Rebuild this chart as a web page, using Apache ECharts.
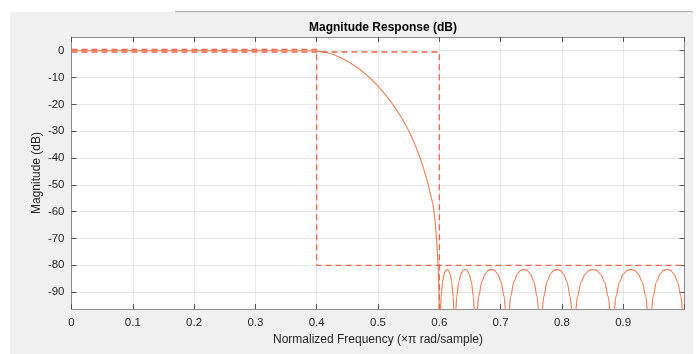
<!DOCTYPE html>
<html>
<head>
<meta charset="utf-8">
<script src="https://cdn.jsdelivr.net/npm/echarts@6/dist/echarts.min.js"></script>
<style>
html,body{margin:0;padding:0;background:#fff;}
#chart{width:697px;height:354px;}
</style>
</head>
<body>
<div id="chart"></div>
<script>
// ---- data ----
const title = 'Magnitude Response (dB)';
const xName = 'Normalized Frequency (\u00d7\u03c0 rad/sample)';
const yName = 'Magnitude (dB)';
const yTicks = [0, -10, -20, -30, -40, -50, -60, -70, -80, -90];

// passband + transition band of the filter response [freq, dB]
const responsePass = [
  [0, 0], [0.1, 0], [0.2, 0], [0.3, -0.01], [0.38, -0.03], [0.39, -0.06],
  [0.40, -0.15], [0.41, -0.45], [0.42, -0.95], [0.43, -1.7], [0.44, -2.7], [0.45, -3.9],
  [0.46, -5.3], [0.47, -6.9], [0.48, -8.75], [0.49, -10.85], [0.50, -13.2], [0.51, -15.8],
  [0.52, -18.7], [0.53, -21.95], [0.54, -25.55], [0.55, -29.75], [0.56, -34.75], [0.57, -40.75],
  [0.58, -48.15], [0.59, -57.65], [0.593, -63], [0.596, -72], [0.598, -80], [0.5995, -90], [0.6005, -130]
];
// stopband lobes [freq, dB]
const responseStop = [
  [0.6005, -130],
  [0.6017, -97.6], [0.6030, -91.7], [0.6054, -86.1], [0.6079, -83.3], [0.6103, -81.9], [0.6128, -81.5],
  [0.6152, -81.9], [0.6177, -83.3], [0.6201, -86.1], [0.6226, -91.7], [0.6238, -97.6], [0.625, -130],
  [0.6267, -97.6], [0.6284, -91.7], [0.6318, -86.1], [0.6352, -83.3], [0.6386, -81.9], [0.642, -81.5],
  [0.6454, -81.9], [0.6488, -83.3], [0.6522, -86.1], [0.6556, -91.7], [0.6573, -97.6], [0.659, -130],
  [0.6616, -97.6], [0.6642, -91.7], [0.6694, -86.1], [0.6746, -83.3], [0.6798, -81.9], [0.685, -81.5],
  [0.6902, -81.9], [0.6954, -83.3], [0.7006, -86.1], [0.7058, -91.7], [0.7084, -97.6], [0.711, -130],
  [0.7137, -97.6], [0.7164, -91.7], [0.7218, -86.1], [0.7272, -83.3], [0.7326, -81.9], [0.738, -81.5],
  [0.7434, -81.9], [0.7488, -83.3], [0.7542, -86.1], [0.7596, -91.7], [0.7623, -97.6], [0.765, -130],
  [0.7677, -97.6], [0.7704, -91.7], [0.7758, -86.1], [0.7812, -83.3], [0.7866, -81.9], [0.792, -81.5],
  [0.7974, -81.9], [0.8028, -83.3], [0.8082, -86.1], [0.8136, -91.7], [0.8163, -97.6], [0.819, -130],
  [0.8222, -97.6], [0.8253, -91.7], [0.8316, -86.1], [0.8379, -83.3], [0.8442, -81.9], [0.8505, -81.5],
  [0.8568, -81.9], [0.8631, -83.3], [0.8694, -86.1], [0.8757, -91.7], [0.8789, -97.6], [0.882, -130],
  [0.8851, -97.6], [0.8881, -91.7], [0.8942, -86.1], [0.9003, -83.3], [0.9064, -81.9], [0.9125, -81.5],
  [0.9186, -81.9], [0.9247, -83.3], [0.9308, -86.1], [0.9369, -91.7], [0.9400, -97.6], [0.943, -130],
  [0.9459, -97.6], [0.9487, -91.7], [0.9544, -86.1], [0.9601, -83.3], [0.9658, -81.9], [0.9715, -81.5],
  [0.9772, -81.9], [0.9829, -83.3], [0.9886, -86.1], [0.9943, -91.7], [0.9972, -97.6], [1.0, -130]
];
// specification mask (dashed)
const maskUpper = [[0, 0.5], [0.4, 0.5], [0.4, -80], [1, -80]];
const maskLower = [[0, -0.5], [0.6, -0.5], [0.6, -130]];

const xMin = 0, xMax = 1, xStep = 0.1;
const yMin = -96.3, yMax = 5.1;

// ---- chart ----
const chart = echarts.init(document.getElementById('chart'), null, {renderer: 'canvas'});
const font = '"Liberation Sans", Arial, Helvetica, sans-serif';
const txt = '#262626';
const boxColor = '#8c8c8c';
const gridColor = '#e6e6e6';
const curveColor = '#ef8560';
const maskColor = '#e8674a';

const xFmt = v => (v > 0.95 ? '' : (Math.abs(v) < 1e-9 ? '0' : v.toFixed(1)));

const option = {
  backgroundColor: '#ffffff',
  animation: false,
  graphic: [
    {type: 'rect', z: -10, shape: {x: 10, y: 12, width: 683, height: 342}, style: {fill: '#f0f0f0'}},
    {type: 'line', z: -9, shape: {x1: 175, y1: 11.5, x2: 693, y2: 11.5}, style: {stroke: '#b0b0b0', lineWidth: 1}}
  ],
  title: {
    text: title, left: 378, top: 17, textAlign: 'center',
    textStyle: {fontFamily: font, fontSize: 12, fontWeight: 'bold', color: '#000'}
  },
  grid: {
    left: 71.5, top: 37, right: 12.5, bottom: 45,
    show: true, backgroundColor: '#ffffff', borderWidth: 0
  },
  xAxis: [
    {
      type: 'value', min: xMin, max: xMax, interval: xStep, position: 'bottom',
      name: xName, nameLocation: 'middle', nameGap: 24,
      nameTextStyle: {fontFamily: font, fontSize: 12, color: txt},
      axisLine: {show: true, onZero: false, lineStyle: {color: boxColor, width: 1}},
      axisTick: {show: true, inside: true, length: 5, lineStyle: {color: '#555'}},
      axisLabel: {formatter: xFmt, margin: 8, fontFamily: font, fontSize: 11.5, color: txt, showMaxLabel: true},
      splitLine: {show: true, lineStyle: {color: gridColor, width: 1}}
    },
    {
      type: 'value', min: xMin, max: xMax, interval: xStep, position: 'top',
      axisLine: {show: true, onZero: false, lineStyle: {color: boxColor, width: 1}},
      axisTick: {show: true, inside: true, length: 5, lineStyle: {color: '#555'}},
      axisLabel: {show: false}, splitLine: {show: false}
    }
  ],
  yAxis: [
    {
      type: 'value', min: yMin, max: yMax, position: 'left',
      name: yName, nameLocation: 'middle', nameGap: 29, nameMoveOverlap: false,
      nameTextStyle: {fontFamily: font, fontSize: 12, color: txt},
      axisLine: {show: true, onZero: false, lineStyle: {color: boxColor, width: 1}},
      axisTick: {show: true, inside: true, length: 5, customValues: yTicks, lineStyle: {color: '#555'}},
      axisLabel: {customValues: yTicks, margin: 7, fontFamily: font, fontSize: 11.5, color: txt},
      splitLine: {show: true, lineStyle: {color: gridColor, width: 1}}
    },
    {
      type: 'value', min: yMin, max: yMax, position: 'right',
      axisLine: {show: true, onZero: false, lineStyle: {color: boxColor, width: 1}},
      axisTick: {show: true, inside: true, length: 5, customValues: yTicks, lineStyle: {color: '#555'}},
      axisLabel: {show: false}, splitLine: {show: false}
    }
  ],
  series: [
    {
      type: 'line', name: 'passband', clip: true,
      data: responsePass, showSymbol: false, symbol: 'none',
      lineStyle: {color: curveColor, width: 1.2}, z: 3
    },
    {
      type: 'line', name: 'stopband', clip: true,
      data: responseStop, showSymbol: false, symbol: 'none', smooth: 0.3, smoothMonotone: 'x',
      lineStyle: {color: curveColor, width: 1.2}, z: 3
    },
    {
      type: 'line', name: 'maskUpper', clip: true,
      data: maskUpper, showSymbol: false, symbol: 'none',
      lineStyle: {color: maskColor, width: 1.3, type: [6, 4]}, z: 4
    },
    {
      type: 'line', name: 'maskLower', clip: true,
      data: maskLower, showSymbol: false, symbol: 'none',
      lineStyle: {color: maskColor, width: 1.3, type: [6, 4]}, z: 4
    }
  ]
};
chart.setOption(option);
</script>
</body>
</html>
